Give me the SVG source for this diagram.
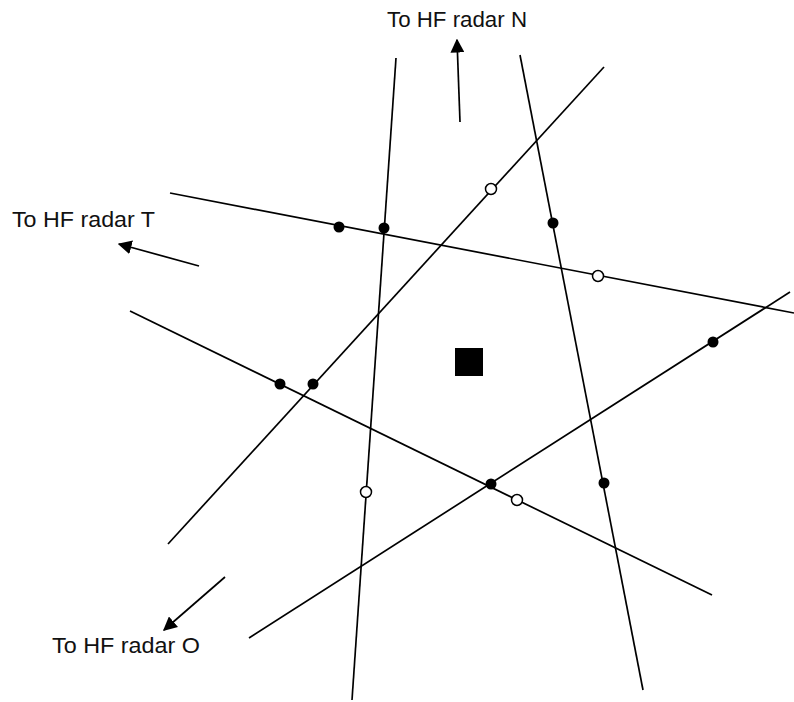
<svg xmlns="http://www.w3.org/2000/svg" width="794" height="702" viewBox="0 0 794 702">
<style>
.ln{stroke:#000;stroke-width:1.7;fill:none}
.ar{stroke:#000;stroke-width:1.7;fill:none;marker-end:url(#ah)}
.f{fill:#000}
.o{fill:#fff;stroke:#000;stroke-width:1.5}
text{font-family:"Liberation Sans",Arial,sans-serif;font-size:22px;fill:#111}
</style>
<defs>
<marker id="ah" viewBox="0 0 10 10" refX="9" refY="5" markerWidth="14" markerHeight="14" markerUnits="userSpaceOnUse" orient="auto"><path d="M0,0 L10,5 L0,10 z" fill="#000"/></marker>
</defs>
<rect width="794" height="702" fill="#fff"/>
<g id="connectors">
<line class="ln" x1="396" y1="58" x2="352" y2="700"/>
<line class="ln" x1="520" y1="55" x2="643" y2="690"/>
<line class="ln" x1="604" y1="67" x2="168" y2="544"/>
<line class="ln" x1="170" y1="193" x2="794" y2="313"/>
<line class="ln" x1="130" y1="311" x2="712" y2="595"/>
<line class="ln" x1="249" y1="638" x2="790" y2="292"/>
<line class="ar" x1="460" y1="122" x2="457" y2="40"/>
<line class="ar" x1="199" y1="266" x2="119" y2="244"/>
<line class="ar" x1="225" y1="577" x2="164" y2="630"/>
</g>
<g id="site"><rect x="455" y="348" width="28" height="28" fill="#000"/></g>
<g id="points">
<circle class="f" cx="339" cy="227" r="5.5"/>
<circle class="f" cx="384" cy="228" r="5.5"/>
<circle class="f" cx="553" cy="223" r="5.5"/>
<circle class="f" cx="713" cy="342" r="5.5"/>
<circle class="f" cx="280" cy="384" r="5.5"/>
<circle class="f" cx="313" cy="384" r="5.5"/>
<circle class="f" cx="491" cy="484" r="5.5"/>
<circle class="f" cx="604" cy="483" r="5.5"/>
<circle class="o" cx="491" cy="189" r="5.5"/>
<circle class="o" cx="598" cy="276" r="5.5"/>
<circle class="o" cx="366" cy="492" r="5.5"/>
<circle class="o" cx="517" cy="500" r="5.5"/>
</g>
<g id="labelN"><text x="387" y="27" textLength="140" lengthAdjust="spacingAndGlyphs">To HF radar N</text></g>
<g id="labelT"><text x="12" y="227" textLength="143" lengthAdjust="spacingAndGlyphs">To HF radar T</text></g>
<g id="labelO"><text x="52" y="653" textLength="148" lengthAdjust="spacingAndGlyphs">To HF radar O</text></g>
</svg>
